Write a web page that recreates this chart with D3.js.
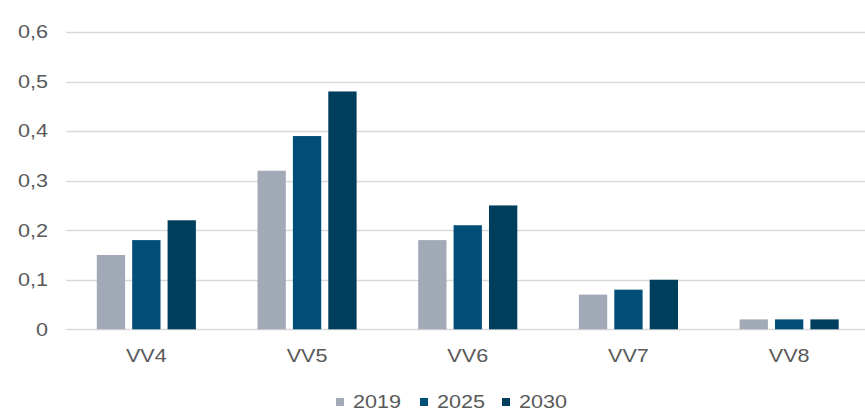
<!DOCTYPE html>
<html><head><meta charset="utf-8">
<script src="https://cdn.jsdelivr.net/npm/d3@7/dist/d3.min.js"></script>
<style>body{margin:0;background:#fff;} svg{display:block;} text{font-family:"Liberation Sans",Arial,sans-serif;fill:#595959;}</style>
</head><body><svg id="c" width="865" height="411"></svg>
<script>
const categories = ["VV4","VV5","VV6","VV7","VV8"];
const seriesNames = ["2019","2025","2030"];
const values2019 = [0.15,0.32,0.18,0.07,0.02];
const values2025 = [0.18,0.39,0.21,0.08,0.02];
const values2030 = [0.22,0.48,0.25,0.10,0.02];
const yTicks = [0,0.1,0.2,0.3,0.4,0.5,0.6];
const colors = ["#A1AAB6","#004E78","#003E5E"];

const seriesValues = [values2019, values2025, values2030];
const svg = d3.select("#c");
const SX = 1.2;
const y = d3.scaleLinear().domain([0,0.6]).range([329.3,32]);
const x = d3.scaleBand().domain(categories).range([66,869.5]).paddingInner(0).paddingOuter(0);
const inner = d3.scaleBand().domain(seriesNames).range([30.8, x.bandwidth()-30.8]).paddingInner(0.2).paddingOuter(0);
const fmt = d => d===0 ? "0" : d3.format(".1f")(d).replace(".",",");

svg.append("g").selectAll("line").data(yTicks).join("line")
  .attr("x1",66).attr("x2",865).attr("y1",d=>Math.round(y(d))+0.5).attr("y2",d=>Math.round(y(d))+0.5)
  .attr("stroke","#d9d9d9").attr("stroke-width",1.5);
svg.append("g").selectAll("text").data(yTicks).join("text")
  .attr("transform",d=>`translate(48,${y(d)}) scale(${SX},1)`).attr("dy","0.35em").attr("text-anchor","end")
  .attr("font-size",18).text(fmt);

const g = svg.append("g");
seriesNames.forEach((s,i)=>{
  g.append("g").selectAll("rect").data(categories).join("rect")
    .attr("x",c=>x(c)+inner(s)).attr("width",inner.bandwidth())
    .attr("y",(c,j)=>y(seriesValues[i][j])).attr("height",(c,j)=>y(0)-y(seriesValues[i][j]))
    .attr("fill",colors[i]);
});
svg.append("g").selectAll("text").data(categories).join("text")
  .attr("transform",c=>`translate(${x(c)+x.bandwidth()/2},362) scale(${SX},1)`).attr("text-anchor","middle")
  .attr("font-size",18).text(d=>d);

const leg = svg.append("g");
const legX = [336,420,502];
seriesNames.forEach((s,i)=>{
  leg.append("rect").attr("x",legX[i]).attr("y",398).attr("width",8).attr("height",8).attr("fill",colors[i]);
  leg.append("text").attr("transform",`translate(${legX[i]+17},407.5) scale(${SX},1)`).attr("font-size",18).text(s);
});
</script></body></html>
